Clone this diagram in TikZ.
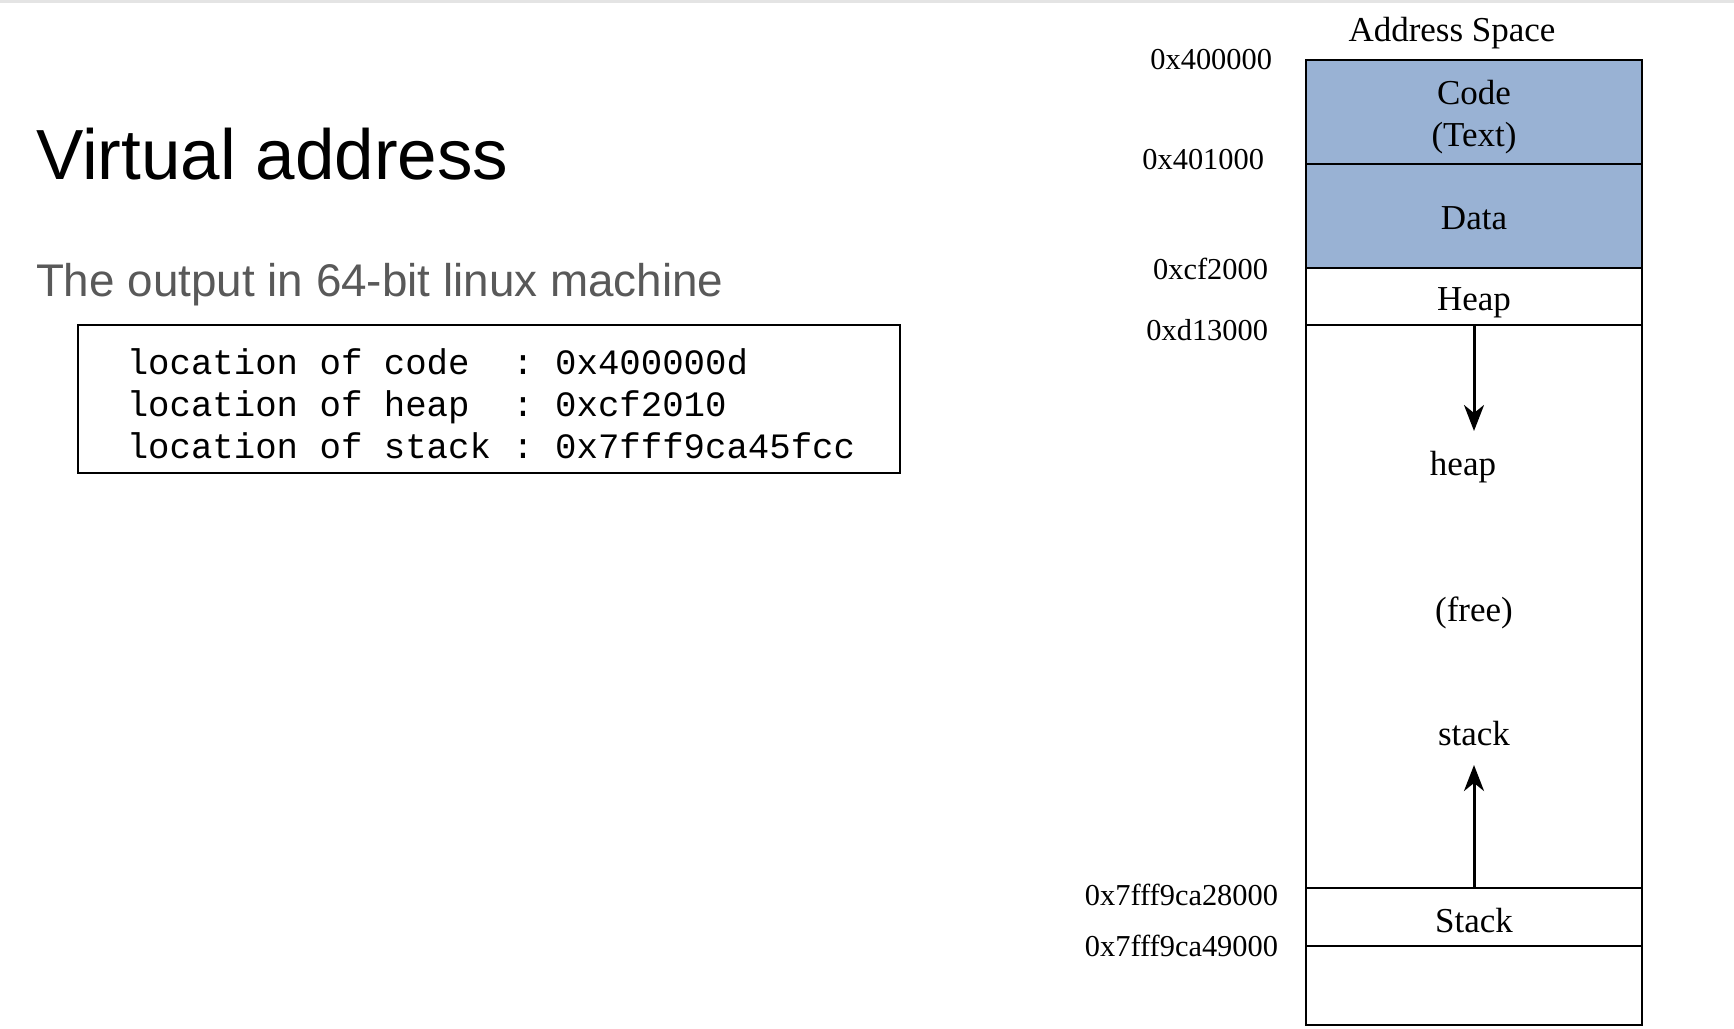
\documentclass[tikz,border=0pt]{standalone}
\usepackage{fontspec}
\setmainfont{Liberation Serif}
\setsansfont{Liberation Sans}
\setmonofont{Liberation Mono}
\usetikzlibrary{positioning,arrows.meta}
\definecolor{segblue}{RGB}{153,178,212}
\definecolor{subgray}{RGB}{89,89,89}
\definecolor{rulegray}{RGB}{228,228,228}

\begin{document}
\begin{tikzpicture}[x=0.5pt,y=-0.5pt,node distance=0pt,inner sep=0pt,outer sep=0pt]
\tikzstyle{seg}=[rectangle, draw=black, line width=1.25pt, minimum width=168pt]
\tikzstyle{lbl}=[align=center, font=\fontsize{17.5}{21}\selectfont]
\tikzstyle{addr}=[anchor=east, font=\fontsize{15.2}{18}\selectfont]
\tikzstyle{growarrow}=[-{Stealth[length=13pt,width=10pt,inset=4pt]}, line width=1.5pt]
\useasboundingbox (0,0) rectangle (1734,1028);
\draw[rulegray, line width=1.5pt] (0,1.5) -- (1734,1.5);
% left side: slide text
\node[anchor=base west, font=\fontsize{35.5}{42}\selectfont\sffamily] (title) at (36,179) {Virtual address};
\node[anchor=base west, text=subgray, font=\fontsize{22.9}{27}\selectfont\sffamily] (sub) at (36,296) {The output in 64-bit linux machine};
\node[draw, line width=1pt, minimum width=411pt, minimum height=74pt] (out) at (489,399) {};
\node[align=left, font=\fontsize{17.85}{21}\selectfont\ttfamily] (outtext) at (491,403.5) {location of code\ \ : 0x400000d\\location of heap\ \ : 0xcf2010\\location of stack : 0x7fff9ca45fcc};
% right side: address space
\node[lbl, anchor=base] (space) at (1452,41) {Address Space};
\node[seg, fill=segblue, minimum height=52pt] (code) at (1474,112) {};
\node[seg, fill=segblue, minimum height=52pt, below=of code] (data) {};
\node[seg, minimum height=28.5pt, below=of data] (heap) {};
\node[seg, minimum height=281.5pt, below=of heap] (free) {};
\node[seg, minimum height=29pt, below=of free] (stack) {};
\node[seg, minimum height=39.5pt, below=of stack] (rest) {};
\node[lbl, yshift=-2.75pt] (codelbl) at (code) {Code\\(Text)};
\node[lbl, yshift=-1.1pt] (datalbl) at (data) {Data};
\node[lbl, yshift=-3.3pt] (heapsegl) at (heap) {Heap};
\node[lbl, yshift=-1.65pt] (stacksegl) at (stack) {Stack};
\node[addr] (a1) at (1272,60) {0x400000};
\node[addr] (a2) at (1264,160) {0x401000};
\node[addr] (a3) at (1268,269) {0xcf2000};
\node[addr] (a4) at (1268,330) {0xd13000};
\node[addr] (a5) at (1278,895) {0x7fff9ca28000};
\node[addr] (a6) at (1278,946) {0x7fff9ca49000};
\node[lbl] (heaplbl) at (1463,467) {heap};
\node[lbl] (freelbl) at (1474,613) {(free)};
\node[lbl] (stacklbl) at (1474,734) {stack};
\coordinate (heapend) at (1474,431);
\coordinate (stackend) at (1474,765);
\draw[growarrow] (free.north) -- (heapend);
\draw[growarrow] (free.south) -- (stackend);
\end{tikzpicture}
\end{document}
